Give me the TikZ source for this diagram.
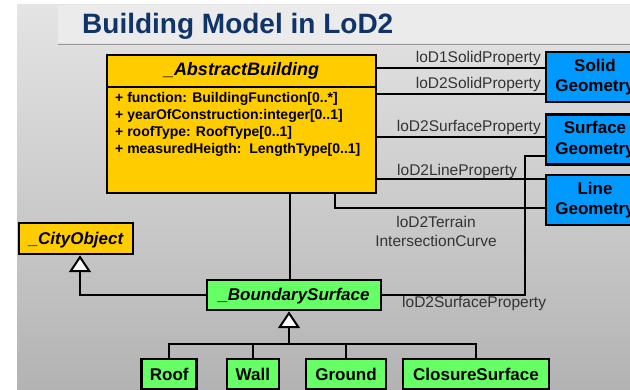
\documentclass[tikz,border=0pt]{standalone}
\usepackage{fontspec}
\setmainfont{Liberation Sans}
\usetikzlibrary{arrows.meta}

\definecolor{titleblue}{RGB}{16,52,104}
\definecolor{umlyellow}{RGB}{255,204,0}
\definecolor{umlblue}{RGB}{0,153,255}
\definecolor{umlgreen}{RGB}{102,255,102}
\definecolor{labelgray}{RGB}{51,51,51}
\definecolor{bgtop}{RGB}{228,228,228}
\definecolor{bgbottom}{RGB}{179,179,179}
\definecolor{titlebar}{RGB}{235,235,235}

\begin{document}
\begin{tikzpicture}[x=1pt,y=-1pt,
	box/.style={draw=black,line width=2.5pt,inner sep=0pt},
	classbox/.style={box,fill=umlyellow,text height=12pt,text depth=0pt,font=\fontsize{17}{20}\selectfont\bfseries\itshape},
	partbox/.style={box,fill=umlgreen,minimum height=30.5pt,text height=12pt,text depth=0pt,font=\fontsize{17}{20}\selectfont\bfseries},
	geombox/.style={box,fill=umlblue,minimum width=98pt,minimum height=50pt,align=center,font=\fontsize{17}{20.5}\selectfont\bfseries},
	role/.style={text=labelgray,inner sep=0pt,font=\fontsize{15.5}{19}\selectfont},
	attr/.style={inner sep=0pt,anchor=base west,font=\fontsize{14}{17}\selectfont\bfseries},
	link/.style={line width=2pt},
	isa/.style={line width=2pt,-{Triangle[open,fill=white,length=17pt,width=22pt]}}]
\clip (0,0) rectangle (630,390);
% slide background
\fill[white] (0,0) rectangle (630,390);
\shade[top color=bgtop,bottom color=bgbottom] (17,5) rectangle (630,390);
\fill[titlebar] (58,5) rectangle (630,43);
\draw[line width=1.5pt,black!40] (58,44.5) -- (630,44.5);

\path (82,34) node[anchor=base west,inner sep=0pt,text=titleblue,font=\fontsize{28}{34}\selectfont\bfseries] (title) {Building Model in LoD2}
		(241.5,124) node[box,fill=umlyellow,minimum width=269pt,minimum height=138pt] (ab) {}
		(241.5,76) node[anchor=base,inner sep=0pt,font=\fontsize{18}{21}\selectfont\bfseries\itshape] (abname) {\_AbstractBuilding}
		(115,103) node[attr] (attrfunc) {+ function: BuildingFunction[0..*]}
		(115,120) node[attr] (attryear) {+ yearOfConstruction:integer[0..1]}
		(115,137) node[attr] (attrroof) {+ roofType: RoofType[0..1]}
		(115,154) node[attr] (attrheight) {+ measuredHeigth:\ \ LengthType[0..1]}
		(595,77) node[geombox] (sg) {Solid\\Geometry}
		(595,139.5) node[geombox] (sfg) {Surface\\Geometry}
		(595,200) node[geombox] (lg) {Line\\Geometry}
		(76,238.5) node[classbox,minimum width=114pt,minimum height=31pt] (co) {\_CityObject}
		(294,295) node[classbox,fill=umlgreen,minimum width=174pt,minimum height=30pt] (bs) {\_BoundarySurface}
		(169.2,374.25) node[partbox,minimum width=55pt] (roof) {Roof}
		(252.9,374.25) node[partbox,minimum width=52pt] (wall) {Wall}
		(346,374.25) node[partbox,minimum width=80pt] (ground) {Ground}
		(476,374.25) node[partbox,minimum width=146pt] (closure) {ClosureSurface}
		(541,63) node[role,anchor=base east] (lodonesolid) {loD1SolidProperty}
		(541,89) node[role,anchor=base east] (lodtwosolid) {loD2SolidProperty}
		(541,132) node[role,anchor=base east] (lodtwosurf) {loD2SurfaceProperty}
		(397,176) node[role,anchor=base west] (lodtwoline) {loD2LineProperty}
		(436,231) node[role,align=center] (lodtwoterrain) {loD2Terrain\\IntersectionCurve}
		(402,308) node[role,anchor=base west] (lodtwobound) {loD2SurfaceProperty};
\draw[line width=2.5pt] ([yshift=-33.25pt]ab.north west) -- ([yshift=-33.25pt]ab.north east);
\draw[link] ([yshift=9pt]sg.west) -- ([yshift=9pt]sg.west -| ab.east);
\draw[link] ([yshift=-17pt]sg.west) -- ([yshift=-17pt]sg.west -| ab.east);
\draw[link] ([yshift=2.5pt]sfg.west) -- ([yshift=2.5pt]sfg.west -| ab.east);
\draw[link] ([yshift=21pt]lg.west) -- ([yshift=21pt]lg.west -| ab.east);
\draw[link] ([xshift=93.5pt]ab.south) |- ([yshift=-8pt]lg.west);
\draw[link] ([yshift=-16.5pt]sfg.west) -- ++(-20,0) |- (bs.east);
\draw[link] ([xshift=-4pt]bs.north) -- ([xshift=-4pt]bs.north |- ab.south);
\draw[isa] (bs.west) -| ([xshift=4pt]co.south);
\draw[link] (wall.north) -- ++(0,-14);
\draw[link] (ground.north) -- ++(0,-14);
\draw[link] (roof.north) ++(0,-14) -| (closure.north);
\draw[isa] (roof.north) -- ++(0,-14) -| ([xshift=-5pt]bs.south);

\end{tikzpicture}
\end{document}
